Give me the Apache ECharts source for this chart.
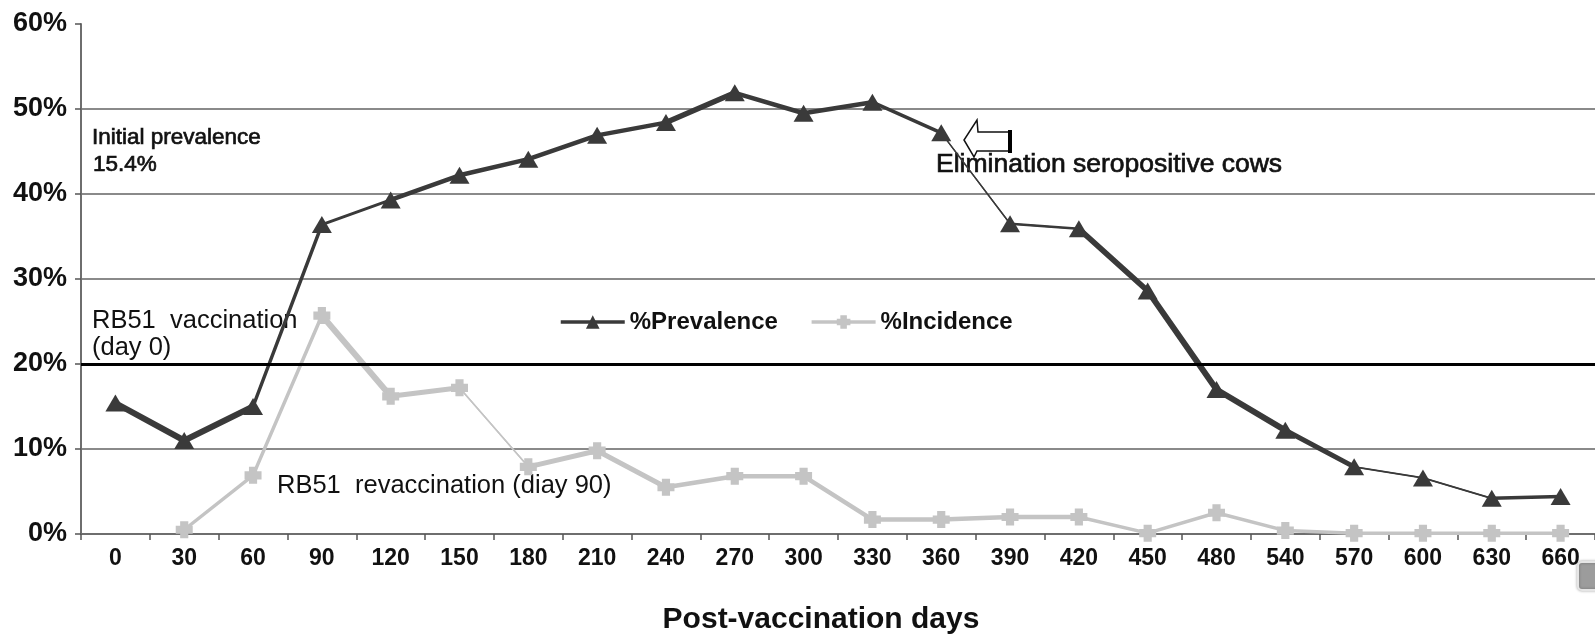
<!DOCTYPE html>
<html>
<head>
<meta charset="utf-8">
<title>Prevalence and incidence after RB51 vaccination</title>
<script src="https://cdn.jsdelivr.net/npm/echarts@6/dist/echarts.min.js"></script>
<style>
  html, body { margin: 0; padding: 0; background: #fff; }
  #chart { width: 1595px; height: 635px; }
</style>
</head>
<body>
<div id="chart"></div>
<script>
// Post-vaccination sampling days (category axis)
const days = ['0', '30', '60', '90', '120', '150', '180', '210', '240', '270', '300',
              '330', '360', '390', '420', '450', '480', '540', '570', '600', '630', '660'];

// Seroprevalence (%) at each sampling
const prevalence = [15.4, 11.0, 15.0, 36.4, 39.3, 42.2, 44.1, 46.9, 48.4, 51.9, 49.5,
                    50.8, 47.2, 36.5, 35.9, 28.6, 17.0, 12.2, 7.9, 6.6, 4.2, 4.4];

// Incidence (%) at each sampling (no value at day 0)
const incidence = ['-', 0.5, 6.9, 25.7, 16.2, 17.2, 7.9, 9.8, 5.5, 6.8, 6.8,
                   1.7, 1.7, 2.0, 2.0, 0.1, 2.5, 0.4, 0.1, 0.1, 0.1, 0.1];

// Stroke width of each line segment (segment i joins point i and i+1)
const prevalenceSegWidth = [6, 6, 3.5, 3, 4.5, 4.5, 4.5, 4.5, 5.5, 4.5, 4.5, 3.5, 1.3, 2.5, 5.5, 6, 6, 5, 1.8, 1.8, 3.5];
const incidenceSegWidth  = [0, 3.5, 3.5, 6, 5, 1.5, 5, 5, 4.5, 4.5, 4.5, 4.5, 4.5, 4.5, 3.5, 3.5, 3.5, 3.5, 3.5, 3.5, 3.5];

const yTicks = [0, 10, 20, 30, 40, 50, 60];

const DARK = '#3a3a3a';
const LIGHT = '#c4c4c4';
const FONT = 'Liberation Sans, Arial, sans-serif';
const plusPath = 'path://M2.6,0H7.4V2.6H10V7.4H7.4V10H2.6V7.4H0V2.6H2.6Z';

// One short series per segment so each stretch of the curve gets its own weight
function segmentSeries(values, widths, color) {
  const out = [];
  for (let i = 0; i < values.length - 1; i++) {
    if (values[i] === '-' || values[i + 1] === '-' || !widths[i]) continue;
    const data = values.map((v, k) => (k === i || k === i + 1) ? v : '-');
    out.push({
      type: 'line',
      data: data,
      symbol: 'none',
      silent: true,
      z: 1,
      animation: false,
      lineStyle: { color: color, width: widths[i], cap: 'round', join: 'round' },
      emphasis: { disabled: true }
    });
  }
  return out;
}

// Free-standing annotation text; `heavy` thickens the glyphs a little
function note(text, x, y, size, heavy) {
  const style = { text: text, font: size + 'px ' + FONT, fill: '#111', textVerticalAlign: 'middle' };
  if (heavy) { style.stroke = '#111'; style.lineWidth = heavy; }
  return { type: 'text', x: x, y: y, z: 0, style: style };
}

const chart = echarts.init(document.getElementById('chart'), null, { renderer: 'canvas' });

const option = {
  backgroundColor: '#ffffff',
  animation: false,
  grid: { left: 81, top: 24, width: 1518, bottom: 101, containLabel: false },
  legend: {
    left: 554,
    top: 305,
    itemWidth: 64,
    itemHeight: 17,
    itemGap: 32,
    selectedMode: false,
    textStyle: { fontFamily: FONT, fontSize: 24, fontWeight: 'bold', color: '#111' },
    data: [
      { name: '%Prevalence', lineStyle: { width: 3.5, color: DARK } },
      { name: '%Incidence', lineStyle: { width: 3.5, color: LIGHT } }
    ]
  },
  xAxis: {
    type: 'category',
    data: days,
    boundaryGap: true,
    axisLine: { lineStyle: { color: '#6e6e6e', width: 2 } },
    axisTick: { show: true, interval: 0, length: 6, lineStyle: { color: '#555', width: 1.5 } },
    axisLabel: {
      interval: 0, margin: 13, color: '#111',
      fontFamily: FONT, fontSize: 23, fontWeight: 'bold'
    },
    splitLine: { show: false }
  },
  yAxis: {
    type: 'value',
    min: yTicks[0],
    max: yTicks[yTicks.length - 1],
    interval: 10,
    axisLine: { show: true, lineStyle: { color: '#6e6e6e', width: 2 } },
    axisTick: { show: true, length: 6, lineStyle: { color: '#555', width: 1.5 } },
    axisLabel: {
      margin: 14, color: '#111', formatter: '{value}%',
      fontFamily: FONT, fontSize: 27, fontWeight: 'bold'
    },
    splitLine: {
      show: true,
      lineStyle: {
        color: ['#8a8a8a', '#8a8a8a', '#8a8a8a', '#8a8a8a', '#8a8a8a', '#8a8a8a', 'rgba(0,0,0,0)'],
        width: 2
      }
    }
  },
  graphic: [
    note('Initial prevalence', 92, 138, 22.5, 0.7),
    note('15.4%', 93, 165, 22.5, 0.7),
    note('RB51  vaccination', 92, 321, 25.5),
    note('(day 0)', 92, 348, 25.5),
    note('RB51  revaccination (diay 90)', 277, 486, 25.5),
    note('Elimination seropositive cows', 936, 165, 26.5, 0.7),
    // x-axis title
    { type: 'text', x: 821, y: 620, z: 0,
      style: { text: 'Post-vaccination days', font: 'bold 30px ' + FONT, fill: '#111', textAlign: 'center', textVerticalAlign: 'middle' } },
    // block arrow pointing at the day-360 sample
    {
      type: 'polygon', z: 5,
      shape: { points: [[1010, 132], [978, 132], [977, 120], [964, 140], [974, 157], [977, 151], [1010, 151]] },
      style: { fill: '#ffffff', stroke: '#111', lineWidth: 1.5 }
    },
    {
      type: 'line', z: 6,
      shape: { x1: 1010, y1: 130, x2: 1010, y2: 153 },
      style: { stroke: '#000', lineWidth: 4 }
    },
    // small grey button in the corner
    {
      type: 'rect', z: 10,
      shape: { x: 1578, y: 562, width: 30, height: 28, r: 4 },
      style: { fill: '#9c9c9c', stroke: '#e6e6e6', lineWidth: 2, shadowBlur: 3, shadowColor: 'rgba(0,0,0,0.3)' }
    }
  ],
  series: [
    {
      name: 'ref20',
      type: 'line',
      data: days.map(() => '-'),
      symbol: 'none',
      silent: true,
      z: 1,
      markLine: {
        silent: true,
        symbol: 'none',
        label: { show: false },
        lineStyle: { color: '#000', width: 3, type: 'solid' },
        data: [{ yAxis: 20 }]
      }
    },
    ...segmentSeries(incidence, incidenceSegWidth, LIGHT),
    ...segmentSeries(prevalence, prevalenceSegWidth, DARK),
    {
      name: '%Prevalence',
      type: 'line',
      data: prevalence,
      z: 4,
      symbol: 'triangle',
      symbolSize: [20, 17],
      showAllSymbol: true,
      itemStyle: { color: DARK },
      lineStyle: { color: DARK, width: 1.3 }
    },
    {
      name: '%Incidence',
      type: 'line',
      data: incidence,
      z: 3,
      symbol: plusPath,
      symbolSize: 17,
      showAllSymbol: true,
      itemStyle: { color: LIGHT },
      lineStyle: { color: LIGHT, width: 1.5 }
    }
  ]
};

chart.setOption(option);
</script>
</body>
</html>
